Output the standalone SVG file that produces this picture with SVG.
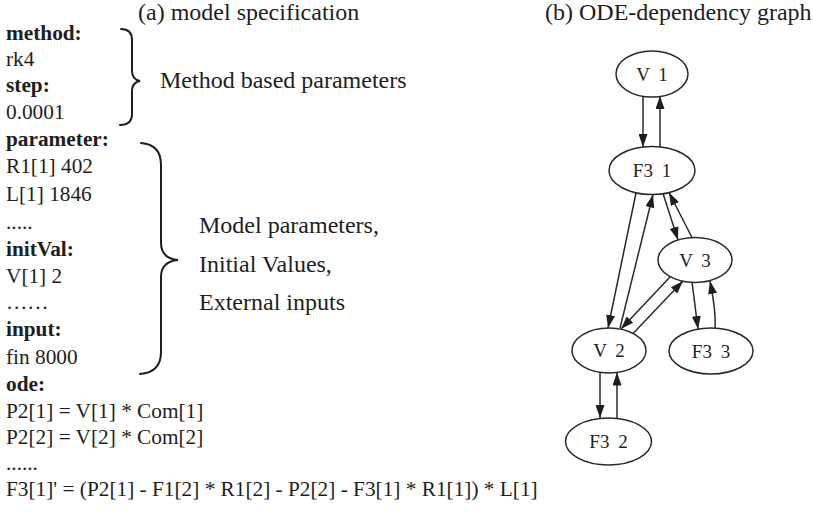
<svg xmlns="http://www.w3.org/2000/svg" width="813" height="512" viewBox="0 0 813 512">
  <defs>
    <style>
      .code { font-family: "Liberation Serif", "Times New Roman", serif; font-size: 21.3px; fill: #1e1e1e; }
      .key { font-weight: bold; }
      .label { font-family: "Liberation Serif", "Times New Roman", serif; font-size: 24px; fill: #1e1e1e; }
      .brace { fill: none; stroke: #1e1e1e; stroke-width: 2; stroke-linecap: round; }
      .node ellipse { fill: #ffffff; stroke: #2a2a2a; stroke-width: 1.5; }
      .node text { font-family: "Liberation Serif", "Times New Roman", serif; font-size: 19px; fill: #1e1e1e; text-anchor: middle; word-spacing: 4px; }
      .edge { fill: none; stroke: #2a2a2a; stroke-width: 1.5; marker-end: url(#arrow); }
    </style>
    <marker id="arrow" markerUnits="userSpaceOnUse" markerWidth="13" markerHeight="9" refX="13" refY="4.5" orient="auto">
      <path d="M0,0 L13,4.5 L0,9 z" fill="#1e1e1e"/>
    </marker>
  </defs>

  <!-- panel titles -->
  <text class="label" x="138" y="20">(a) model specification</text>
  <text class="label" x="545" y="20">(b) ODE-dependency graph</text>

  <!-- model specification listing -->
  <g id="spec">
    <text class="code key" x="6" y="40">method:</text>
    <text class="code" x="6" y="66">rk4</text>
    <text class="code key" x="6" y="92">step:</text>
    <text class="code" x="6" y="119">0.0001</text>
    <text class="code key" x="6" y="146">parameter:</text>
    <text class="code" x="6" y="173">R1[1] 402</text>
    <text class="code" x="6" y="201">L[1] 1846</text>
    <text class="code" x="6" y="229">.....</text>
    <text class="code key" x="6" y="256">initVal:</text>
    <text class="code" x="6" y="283">V[1] 2</text>
    <text class="code" x="6" y="309">……</text>
    <text class="code key" x="6" y="336">input:</text>
    <text class="code" x="6" y="364">fin 8000</text>
    <text class="code key" x="6" y="391">ode:</text>
    <text class="code" x="6" y="418">P2[1] = V[1] * Com[1]</text>
    <text class="code" x="6" y="444">P2[2] = V[2] * Com[2]</text>
    <text class="code" x="6" y="470">......</text>
    <text class="code" x="6" y="496">F3[1]' = (P2[1] - F1[2] * R1[2] - P2[2] - F3[1] * R1[1]) * L[1]</text>
  </g>

  <!-- braces and their annotations -->
  <g id="method-brace">
    <path class="brace" d="M121,29 C128,29 132,33 132,40 L132,71 C132,77 135,80 140,81 C135,82 132,85 132,91 L132,114 C132,121 128,125 120,125"/>
    <text class="label" x="160" y="88">Method based parameters</text>
  </g>
  <g id="model-brace">
    <path class="brace" d="M141,143 C154,144 161,151 161,165 L161,243 C161,254 168,259 178,260 C168,261 161,266 161,277 L161,352 C161,366 154,373 140,374"/>
    <text class="label" x="199" y="233">Model parameters,</text>
    <text class="label" x="199" y="272">Initial Values,</text>
    <text class="label" x="199" y="310">External inputs</text>
  </g>

  <!-- dependency graph: connectors -->
  <g id="edges">
    <line class="edge" x1="643" y1="96" x2="643" y2="147"/>
    <line class="edge" x1="660" y1="147" x2="660" y2="96"/>
    <line class="edge" x1="636" y1="193" x2="608" y2="328"/>
    <line class="edge" x1="620" y1="328" x2="653" y2="194.5"/>
    <line class="edge" x1="663" y1="193.5" x2="678" y2="240"/>
    <line class="edge" x1="692" y1="237.5" x2="669" y2="192.5"/>
    <line class="edge" x1="670" y1="277" x2="621" y2="329"/>
    <line class="edge" x1="633" y1="333.5" x2="683" y2="281"/>
    <line class="edge" x1="692" y1="282" x2="698" y2="329"/>
    <path class="edge" d="M715,328 C716,312 713,296 710,281"/>
    <line class="edge" x1="600" y1="372.5" x2="600" y2="418"/>
    <line class="edge" x1="617" y1="418.5" x2="617" y2="372.5"/>
  </g>

  <!-- dependency graph: nodes -->
  <g id="V_1" class="node">
    <ellipse cx="652" cy="74" rx="36" ry="23"/>
    <text x="652" y="80.5">V 1</text>
  </g>
  <g id="F3_1" class="node">
    <ellipse cx="652" cy="170.5" rx="43" ry="24"/>
    <text x="652" y="177">F3 1</text>
  </g>
  <g id="V_3" class="node">
    <ellipse cx="695" cy="260" rx="37" ry="22.5"/>
    <text x="695" y="266.5">V 3</text>
  </g>
  <g id="V_2" class="node">
    <ellipse cx="609" cy="350.5" rx="37" ry="22.5"/>
    <text x="609" y="357">V 2</text>
  </g>
  <g id="F3_3" class="node">
    <ellipse cx="711" cy="351" rx="42" ry="23"/>
    <text x="711" y="357.5">F3 3</text>
  </g>
  <g id="F3_2" class="node">
    <ellipse cx="608.5" cy="441.5" rx="43" ry="23.5"/>
    <text x="608.5" y="448">F3 2</text>
  </g>
</svg>
